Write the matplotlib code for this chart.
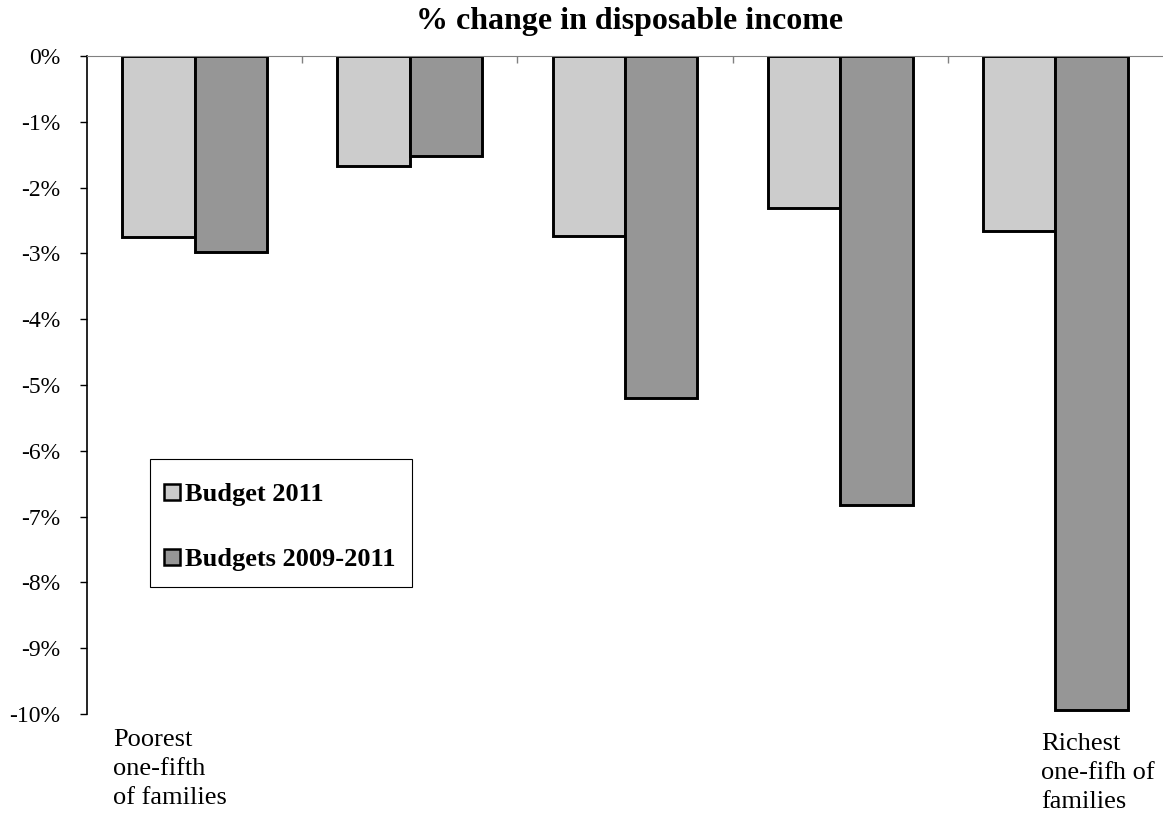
import numpy as np
import matplotlib
matplotlib.use("Agg")
import matplotlib.pyplot as plt
from matplotlib.patches import Rectangle
from matplotlib.ticker import FuncFormatter

plt.rcParams['font.family'] = ['Liberation Serif', 'DejaVu Serif']

# quintile groups, poorest to richest
groups = ["Poorest\none-fifth\nof families", "", "", "", "Richest\none-fifh of\nfamilies"]
budget_2011 = [-2.75, -1.67, -2.74, -2.31, -2.66]
budgets_2009_2011 = [-2.98, -1.52, -5.20, -6.82, -9.94]
series_names = ["Budget 2011", "Budgets 2009-2011"]
yticks = np.arange(0, -11, -1)

W, H = 1163, 821
fig = plt.figure(figsize=(W / 100, H / 100), dpi=100)
ax = fig.add_axes([87 / W, 1 - 714 / H, 1 - 87 / W, (714 - 56) / H])

x = np.arange(len(groups))
w = 0.336
ax.bar(x - w / 2, budget_2011, w, color="#cccccc", edgecolor="black", linewidth=2.1,
       label=series_names[0], zorder=3)
ax.bar(x + w / 2, budgets_2009_2011, w, color="#969696", edgecolor="black", linewidth=2.1,
       label=series_names[1], zorder=3)

ax.set_xlim(-0.5, len(groups) - 0.5)
ax.set_ylim(-10, 0)
ax.set_yticks(yticks)
ax.yaxis.set_major_formatter(FuncFormatter(lambda v, p: f"{v:.0f}%"))
ax.tick_params(axis="y", direction="out", length=5, width=1, labelsize=17, pad=14)

# zero line across the top with small category-boundary ticks
ax.spines["right"].set_visible(False)
ax.spines["bottom"].set_visible(False)
ax.spines["top"].set_color("#808080")
ax.spines["top"].set_zorder(4)
ax.spines["left"].set_linewidth(1.2)
ax.xaxis.tick_top()
ax.set_xticks(np.arange(0.5, len(groups) - 1, 1))
ax.set_xticklabels([])
ax.tick_params(axis="x", direction="in", length=5, width=1, color="#808080")

# category labels under the plot
label_pos = [(113, 729), None, None, None, (1041, 733)]
for pos, txt in zip(label_pos, groups):
    if txt:
        fig.text(pos[0] / W, 1 - pos[1] / H, txt, ha="left", va="top",
                 fontsize=19, linespacing=1.4)

fig.text(630 / W, 1 - 22 / H, "% change in disposable income", ha="center",
         va="center", fontsize=23, fontweight="bold")

# legend box drawn separately so the padding can be matched
ax.add_patch(Rectangle((150 / W, 1 - 587 / H), 262 / W, 128 / H,
                       transform=fig.transFigure, facecolor="white",
                       edgecolor="black", linewidth=0.8, zorder=4.5, clip_on=False))
leg = ax.legend(loc="upper left", bbox_to_anchor=(163.5 / W, 1 - 483 / H),
                bbox_transform=fig.transFigure, frameon=False,
                prop={"size": 19, "weight": "bold"},
                handlelength=0.62, handleheight=0.55, handletextpad=0.2,
                labelspacing=1.6, borderpad=0, borderaxespad=0)
leg.set_zorder(6)
for h in leg.legend_handles:
    h.set_linewidth(1.8)

fig.savefig("out.png", dpi=100)
